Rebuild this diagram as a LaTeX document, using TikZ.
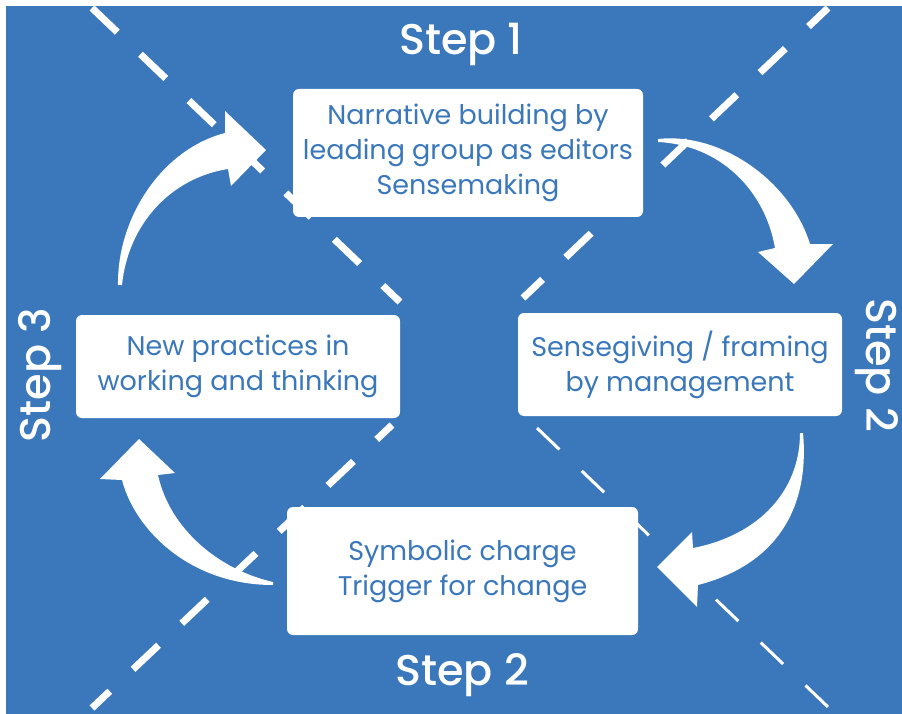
\documentclass[tikz,border=0pt]{standalone}
\usepackage{fontspec}
\setmainfont{Poppins}
\newfontfamily\stepfont{Poppins Medium}
\usepackage{tikz}
\usetikzlibrary{positioning}

\definecolor{stepblue}{RGB}{58,120,187}

\begin{document}
\begin{tikzpicture}[
  x=1pt, y=-1pt,
  every node/.style={font=\fontsize{27}{35}\selectfont},
  box/.style={
    rectangle, rounded corners=6pt, fill=white, draw=none,
    align=center, text=stepblue, inner sep=0pt
  },
  steplbl/.style={text=white, font=\fontsize{43}{46}\stepfont},
  cut/.style={white, line width=7pt, dash pattern=on 35pt off 32pt},
  thincut/.style={white, line width=3pt, dash pattern=on 31pt off 31pt},
  curvearrow/.style={fill=white, draw=none}
]

\useasboundingbox (0,0) rectangle (902,714);
\fill[stepblue] (6,6) rectangle (902,714);

% the two crossing dashed lines (broken in the middle)
\coordinate (nw) at (92,8);
\coordinate (nwend) at (400,302);
\coordinate (sestart) at (537,428);
\coordinate (se) at (828,707);
\coordinate (ne) at (828,8);
\coordinate (neend) at (523,298);
\coordinate (swstart) at (392,425);
\coordinate (sw) at (92,708);
\draw[cut] (nw) -- (nwend);
\draw[thincut] (sestart) -- (se);
\draw[cut, dash phase=8pt] (neend) -- (ne);
\draw[cut, dash phase=14pt] (swstart) -- (sw);

% boxes
\node[box, minimum width=350, minimum height=128] (edit) at (468,153)
  {Narrative building by\\leading group as editors\\Sensemaking};
\node[box, minimum width=324, minimum height=103] (frame) at (680,364.5)
  {Sensegiving / framing\\by management};
\node[box, minimum width=351, minimum height=128] (trigger) at (462.5,571)
  {Symbolic charge\\Trigger for change};
\node[box, minimum width=324, minimum height=103] (practice) at (238,366.5)
  {New practices in\\working and thinking};

% step labels
\node[steplbl] (s1) at (461,44) {Step 1};
\node[steplbl, rotate=-90] (s2r) at (877,365) {Step 2};
\node[steplbl] (s2b) at (462,675) {Step 2};
\node[steplbl, rotate=90] (s3) at (40,375) {Step 3};

% curved arrows
\fill[curvearrow] (118,285) .. controls (117,220) and (160,150) .. (225,133)
  -- (225,111) -- (266,150) -- (231,186) -- (228,169)
  .. controls (170,178) and (128,225) .. (122,285) -- cycle;
\fill[curvearrow] (658,139) .. controls (720,132) and (790,180) .. (810,244)
  -- (833,244) -- (794,284) -- (758,252) -- (775,248)
  .. controls (765,190) and (720,145) .. (658,142) -- cycle;
\fill[curvearrow] (803,433) .. controls (810,510) and (775,565) .. (698,585)
  -- (697,607) -- (657,567) -- (692,532) -- (693,548)
  .. controls (760,535) and (800,490) .. (800,433) -- cycle;
\fill[curvearrow] (273,585) .. controls (190,585) and (135,530) .. (122,480)
  -- (100,479) -- (139,439) -- (175,473) -- (158,475)
  .. controls (170,530) and (220,570) .. (273,582) -- cycle;

\end{tikzpicture}
\end{document}
